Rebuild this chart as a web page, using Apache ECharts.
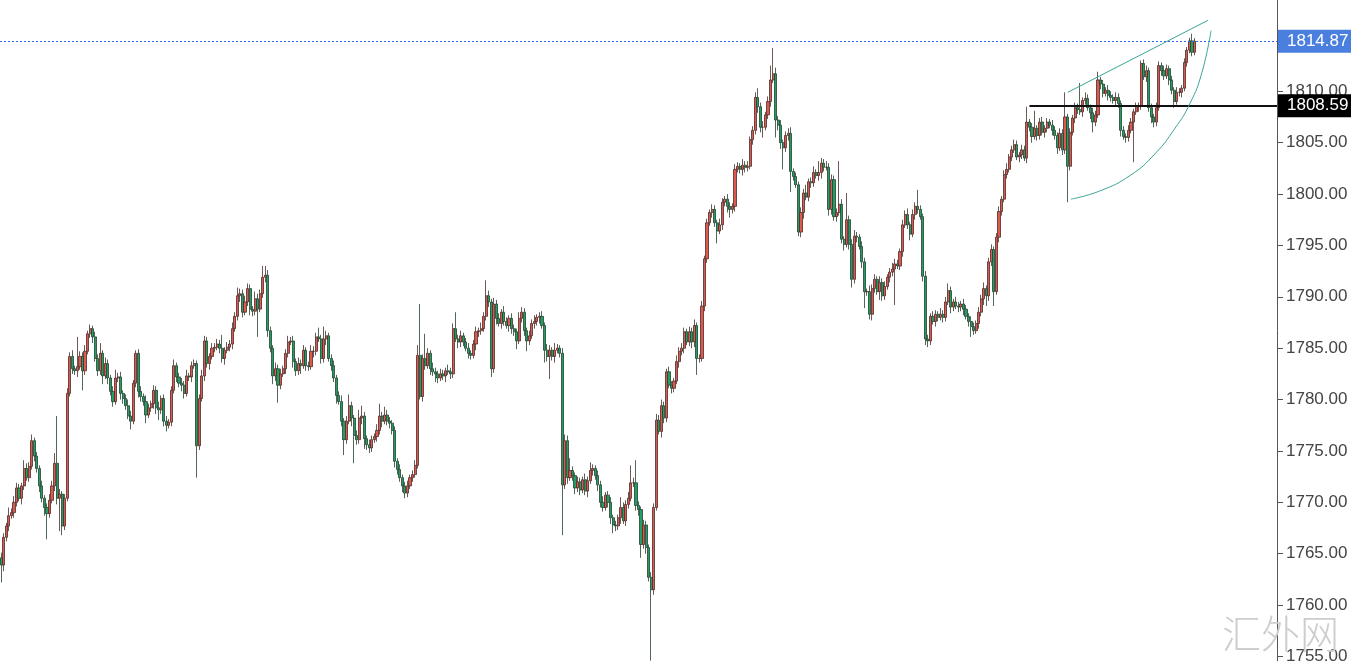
<!DOCTYPE html>
<html><head><meta charset="utf-8">
<script src="https://cdn.jsdelivr.net/npm/echarts@6/dist/echarts.min.js"></script>
<style>html,body{margin:0;padding:0;background:#fff;overflow:hidden}#c{width:1351px;height:665px}</style>
</head><body><div id="c"></div>
<script>
// ---- data ----
const firstOpen = 1764.6;
const closes = [
1763.9,1766.6,1767.7,1768.7,1769.0,1770.0,1771.4,1770.4,1771.6,1773.3,1772.4,1773.5,1776.0,1774.5,1773.3,1771.6,1770.4,1769.5,1768.9,1770.2,1771.6,1773.8,1770.4,1770.8,1767.7,1770.4,1780.6,
1784.2,1783.0,1782.8,1783.2,1784.2,1782.8,1784.7,1786.4,1786.9,1786.1,1784.0,1782.8,1784.5,1782.3,1783.5,1782.1,1780.8,1779.8,1782.1,1782.2,1780.6,1780.1,1779.4,1778.4,1777.9,1781.6,1784.5,1780.8,1780.3,1779.8,1778.5,1779.2,1779.6,1780.9,1779.2,1779.0,1780.1,1777.9,1777.5,1777.8,1780.9,1783.3,1782.2,1781.6,1781.4,1780.6,1782.3,1782.2,1783.3,1783.5,1775.5,1780.1,1782.3,1785.7,1783.5,1784.2,1785.0,1785.1,
1785.4,1785.0,1784.0,1784.8,1785.1,1785.4,1786.9,1788.1,1790.1,1790.3,1788.5,1789.5,1790.8,1788.8,1788.6,1789.8,1788.8,1790.3,1791.9,1792.1,1786.7,1785.0,1782.3,1783.0,1781.4,1782.5,1783.0,1784.5,1785.6,1785.7,1783.7,1782.8,1783.5,1783.3,1784.8,1783.3,1783.2,1784.7,1784.7,1786.1,1785.9,1784.0,1785.9,1786.2,1784.0,1783.3,1782.1,1780.4,1779.8,1777.9,1776.1,1777.9,1779.4,1778.2,1776.5,1776.1,1778.2,1778.4,1776.2,1775.6,1775.3,1776.1,1776.4,1777.0,1778.4,1777.9,1778.5,1777.9,1777.7,1777.0,1774.0,1773.2,1772.4,1771.6,1770.9,1771.6,1772.4,1772.7,1773.6,1784.3,
1780.3,1784.0,1783.3,1784.5,1783.0,1782.7,1782.5,1782.1,1782.5,1782.3,1782.8,1782.7,1782.5,1786.9,1785.9,1785.6,1786.2,1785.6,1785.0,1784.5,1784.3,1785.4,1786.6,1786.7,1786.9,1788.1,1790.1,1789.5,1783.0,1789.3,1787.9,1787.4,1788.5,1787.6,1787.2,1787.9,1786.9,1786.6,1785.7,1787.9,1788.5,1786.7,1785.7,1786.2,1787.4,1787.6,1788.0,1788.1,1787.2,1784.8,1784.2,1784.8,1784.2,1784.8,1785.0,1784.5,1771.7,
1776.0,1772.4,1773.1,1772.6,1771.4,1772.0,1771.2,1772.2,1771.1,1772.1,1773.1,1773.3,1772.6,1771.7,1770.0,1769.5,1770.7,1770.0,1768.5,1767.8,1767.7,1768.5,1769.5,1768.2,1769.8,1770.4,1771.9,1771.9,1769.7,1769.3,1765.9,1767.8,1765.6,1762.7,1761.5,1769.5,1778.0,
1776.9,1779.4,1778.2,1782.7,1781.4,1781.1,1781.8,1783.7,1784.7,1785.0,1786.6,1785.6,1786.6,1785.6,1787.2,1784.0,1784.0,1789.1,1793.7,1797.2,1798.2,1798.5,1797.2,1796.4,1797.0,1799.2,1799.5,1798.8,1798.5,1798.8,1802.4,1802.7,1802.4,1802.8,1802.6,1802.7,1805.3,1806.2,1809.4,1808.5,1806.5,1806.5,1807.7,1809.0,1811.1,1811.7,1807.2,1806.7,1805.0,1804.5,1805.7,1805.9,1802.2,1801.7,1800.9,1796.3,1798.2,1800.1,1799.7,1801.2,1801.1,1802.1,1801.8,1802.1,1803.0,1802.6,1802.6,1798.5,1801.4,1797.8,
1798.2,1799.0,1795.6,1795.1,1797.5,1795.1,1791.7,1795.9,1795.8,1794.9,1793.4,1790.5,1790.5,1788.3,1790.8,1791.7,1790.5,1791.4,1790.1,1791.0,1791.9,1792.4,1792.7,1793.2,1793.0,1794.4,1797.0,1798.0,1797.0,1796.1,1798.0,1798.8,1798.5,1797.8,1792.0,1785.9,1785.7,1788.1,1787.6,1788.3,1788.0,1788.3,1788.0,1789.5,1790.6,1789.0,1789.5,1789.1,1789.0,1789.3,1788.8,1788.1,1787.6,1787.1,1786.7,1787.4,1788.5,1789.8,1790.8,1790.1,1793.4,1794.6,1790.5,1795.8,1798.3,1799.5,1801.9,1802.4,1803.6,1804.3,1804.8,
1803.6,1803.8,1804.3,1803.5,1807.0,1806.5,1805.6,1806.4,1805.7,1807.0,1806.0,1806.4,1807.0,1806.7,1806.2,1805.7,1804.5,1805.9,1804.3,1807.5,1802.7,1806.0,1807.4,1808.4,1808.2,1808.0,1809.1,1809.3,1808.4,1807.9,1807.0,1807.7,1811.1,1810.7,1809.8,1810.1,1809.6,1809.4,1809.1,1809.4,1808.8,1806.2,1805.6,1805.5,1806.2,1807.0,1808.0,1808.5,1808.6,1812.7,1811.4,1812.0,1808.4,1807.5,1807.0,1808.4,1812.5,1812.0,1811.5,1812.2,1811.1,1810.1,1809.0,1809.9,1809.9,1810.3,1812.8,1814.0,1814.9,1813.8,1814.87
];
const wickUp = [
0.5,0.4,0.3,0.8,0.4,0.6,0.5,0.4,0.3,0.8,0.5,0.4,0.6,0.3,0.4,0.3,0.5,0.3,0.4,0.6,0.5,1.0,4.6,0.5,0.3,0.4,0.5,
0.4,0.6,0.3,2.9,0.5,0.4,0.6,0.3,0.4,0.3,0.5,0.4,1.0,0.3,0.6,0.4,0.3,0.5,0.8,0.4,0.5,0.3,0.4,0.6,0.5,0.3,0.3,0.4,0.5,0.3,0.6,0.4,0.3,0.5,0.4,0.6,0.3,0.4,0.5,0.3,0.4,0.6,0.3,0.4,0.5,0.4,0.6,0.3,0.4,0.4,0.3,0.4,0.6,0.5,0.4,0.3,0.5,0.4,
0.5,0.4,1.3,0.3,0.5,0.4,0.6,0.4,0.8,0.5,0.4,0.6,0.5,0.4,0.3,0.7,0.5,0.4,1.1,0.9,0.5,0.4,0.3,0.6,0.4,0.5,0.3,0.4,0.6,0.4,0.5,0.3,0.6,0.4,0.5,0.3,0.4,0.6,0.5,0.4,0.9,0.4,1.2,0.5,0.3,0.4,0.5,0.3,0.4,0.6,0.3,0.5,1.1,0.4,0.3,0.5,0.8,1.0,0.4,0.3,0.5,0.4,0.3,0.6,1.2,0.4,0.8,0.5,0.4,0.3,0.4,0.3,0.5,0.3,0.4,0.5,0.3,0.4,0.5,1.0,
5.0,0.4,2.4,0.5,0.3,0.6,0.4,0.3,0.5,0.4,0.3,0.6,0.4,0.5,1.6,0.4,0.5,0.3,0.4,0.5,0.3,0.4,0.5,0.3,0.6,0.4,1.5,0.5,0.3,0.6,0.4,0.5,0.3,0.6,0.4,0.3,0.5,0.4,0.3,0.6,0.5,0.4,0.3,0.5,0.4,0.6,0.3,0.4,0.5,0.3,0.6,0.5,0.3,0.7,0.4,0.3,0.5,
0.6,0.5,1.2,0.4,0.3,0.5,0.4,0.3,0.6,0.4,0.8,0.4,0.3,0.5,0.4,0.6,0.3,0.4,0.5,0.3,0.4,0.3,1.0,0.5,0.4,0.6,1.7,0.5,2.2,0.4,0.3,0.5,0.4,0.3,0.5,0.4,0.6,
0.5,0.6,0.4,0.3,0.5,0.4,0.3,0.6,0.4,0.5,0.4,0.3,0.5,0.4,0.6,0.3,0.4,0.5,0.3,0.4,0.3,0.5,0.4,0.3,0.6,0.4,0.3,0.5,0.4,0.3,0.5,0.4,0.3,0.6,0.4,0.5,0.3,0.4,0.5,0.9,0.4,0.6,0.3,0.5,1.4,2.5,0.6,0.4,0.5,0.3,0.4,0.5,0.6,0.3,0.4,0.3,0.5,0.4,0.8,0.3,0.4,0.6,0.3,1.1,0.5,0.4,0.6,0.4,0.5,0.4,
0.4,4.2,0.5,0.3,2.6,0.4,0.5,0.6,0.4,0.3,0.5,0.4,0.3,0.6,0.4,0.5,0.3,0.6,0.4,0.5,0.3,0.4,0.6,0.5,0.4,0.3,0.5,0.4,0.6,0.3,0.5,0.4,1.6,0.4,0.3,0.5,0.4,0.3,0.5,0.4,0.3,0.6,0.4,0.5,0.7,0.4,0.3,0.5,0.4,0.3,0.5,0.4,0.3,0.5,0.4,0.3,0.5,0.4,0.6,0.3,0.4,0.5,0.3,0.4,0.5,0.3,0.4,0.6,0.3,0.4,0.5,
0.4,0.3,0.5,0.4,1.5,0.3,0.4,1.7,0.3,0.4,0.5,0.3,0.4,0.3,0.5,0.4,0.3,0.5,0.4,2.4,0.3,0.4,0.3,0.5,0.4,2.6,0.3,0.6,0.4,0.3,0.5,0.4,0.8,0.3,0.4,0.3,0.5,0.4,0.3,0.5,0.4,0.3,0.4,0.3,0.5,0.4,0.3,0.4,0.3,0.3,0.4,0.5,0.3,0.4,0.3,0.5,0.4,0.3,0.5,0.4,0.3,0.4,0.3,0.5,0.4,0.3,0.4,0.3,0.3,0.7,0.3
];
const wickDn = [
1.7,0.6,0.4,0.5,0.3,0.5,0.4,0.3,0.6,0.4,0.3,0.4,0.3,0.5,0.4,0.6,0.4,0.8,2.5,0.4,0.3,0.5,0.6,3.2,0.9,0.4,0.3,
0.3,0.5,0.4,0.6,0.3,1.9,0.4,0.3,0.4,0.6,0.3,0.5,0.4,0.8,0.3,0.6,0.4,0.5,0.3,0.4,0.6,0.5,0.4,0.3,0.8,0.3,0.4,0.6,0.5,0.4,0.8,0.3,0.4,0.5,0.6,1.0,0.4,0.5,0.6,0.3,0.4,0.3,0.5,0.4,0.6,0.5,0.3,0.4,0.5,0.3,3.1,0.4,0.3,0.5,0.4,0.6,0.3,0.4,
0.3,0.5,0.4,0.6,0.3,0.4,0.5,0.3,0.4,0.6,0.5,0.3,0.4,0.6,0.5,0.4,2.7,0.3,0.4,0.5,0.6,0.4,0.8,0.5,1.7,0.4,0.3,0.5,0.4,0.3,0.6,0.5,0.4,0.8,0.3,0.5,0.4,0.3,0.6,0.4,0.3,0.5,0.4,0.6,0.3,0.5,0.4,0.8,0.3,0.5,1.5,0.4,0.3,0.8,2.7,0.5,0.4,0.6,1.0,0.5,0.5,0.4,0.3,0.5,0.4,0.6,0.3,0.4,0.5,0.4,0.6,0.5,0.4,0.6,0.5,0.4,0.3,0.4,0.3,0.3,
0.3,0.5,0.4,0.3,0.6,0.4,0.8,0.5,0.3,0.4,0.6,0.3,0.5,0.4,0.3,0.6,0.5,0.4,0.3,0.5,0.4,0.3,0.6,0.5,0.4,0.3,0.4,0.5,0.8,0.4,0.6,0.3,0.5,0.4,0.3,0.6,0.5,0.4,0.8,0.3,0.4,0.5,1.0,0.4,0.3,0.5,0.4,0.6,0.3,1.2,0.5,2.2,0.4,0.6,0.3,0.4,4.9,
0.4,0.6,0.3,0.5,0.6,0.4,0.5,0.3,0.4,0.6,0.3,0.5,0.4,0.6,0.5,0.4,0.3,0.5,0.6,0.8,0.5,0.4,0.6,0.3,0.5,0.4,0.3,0.4,0.5,0.6,1.3,0.4,0.6,0.4,6.9,0.5,0.3,
0.3,0.6,0.5,0.4,0.3,0.5,0.4,0.3,0.6,0.4,0.5,0.3,0.4,0.6,0.5,1.6,0.4,0.3,0.5,0.4,0.3,0.5,0.4,1.2,0.3,0.5,0.4,0.6,0.8,0.4,0.5,0.3,0.4,0.6,0.5,0.4,0.3,0.5,0.4,0.6,0.5,1.0,0.3,0.4,0.5,0.3,1.7,0.5,0.6,2.1,0.4,0.5,2.0,0.4,0.3,0.4,0.5,0.6,0.3,0.4,0.5,0.4,0.3,0.5,0.6,0.4,0.3,0.6,0.5,0.4,
0.5,0.3,0.4,0.6,0.3,0.5,0.8,0.4,0.5,0.3,0.6,1.6,0.4,0.5,0.6,0.4,0.3,0.8,0.5,0.4,0.3,0.5,0.4,3.5,0.3,0.4,0.5,0.3,0.4,0.6,0.3,0.5,0.4,0.3,0.5,0.6,0.6,0.4,0.3,0.5,0.4,0.3,0.5,0.4,0.3,0.6,0.4,0.3,0.5,0.4,0.6,0.3,0.5,1.0,0.4,0.3,0.5,0.4,0.6,1.0,0.5,0.4,1.4,0.3,0.5,0.4,0.3,0.4,0.3,0.4,0.3,
0.3,0.5,0.4,0.3,0.5,0.4,0.6,0.3,0.5,0.4,0.3,0.5,0.4,0.3,0.5,0.4,0.6,0.3,0.5,0.4,3.5,0.4,0.3,0.5,0.4,0.3,0.5,0.4,0.3,0.6,1.0,0.4,0.3,0.5,0.4,0.3,0.5,0.4,0.3,0.5,0.4,0.6,0.3,0.5,0.4,0.3,3.9,0.3,0.5,0.4,0.3,0.5,0.4,0.6,0.5,0.4,0.3,0.5,0.4,0.3,0.5,0.4,0.6,0.3,0.4,0.5,0.3,0.4,0.3,0.4,0.3
];
const yTicks = [1755,1760,1765,1770,1775,1780,1785,1790,1795,1800,1805,1810,1815];
const lastPrice = 1814.87;
const levelPrice = 1808.59;
const levelStartSlot = 405;
// drawn annotations: [slot position, price]
const trendUpper = [[420.1,1809.9],[475.3,1816.9]];
const trendArc = [[421.3,1799.5],[432.7,1800.3],[444.6,1801.8],[454.4,1803.9],[462.3,1806.4],[468.2,1808.8],[472.9,1811.8],[476.5,1815.9]];
const SLOTS = 503;

// ---- build ----
const slots = [];
for (let i = 0; i < SLOTS; i++) slots.push(String(i));
const ohlc = closes.map((c, i) => {
  const o = i === 0 ? firstOpen : closes[i - 1];
  const hi = Math.max(o, c) + (wickUp[i] || 0);
  const lo = Math.min(o, c) - (wickDn[i] || 0);
  return [o, c, +lo.toFixed(2), +hi.toFixed(2)];
});
const FONT = '"Liberation Sans", Arial, sans-serif';
const teal = '#3aa597';

const chart = echarts.init(document.getElementById('c'), null, {renderer: 'canvas'});
chart.setOption({
  animation: false,
  backgroundColor: '#ffffff',
  grid: {left: 0, right: 74, top: 0, bottom: 0, containLabel: false},
  xAxis: [
    {type: 'category', data: slots, boundaryGap: true, show: false},
    {type: 'value', min: -0.5, max: SLOTS - 0.5, show: false}
  ],
  yAxis: {
    type: 'value', position: 'right', min: 1754.6, max: 1818.88, scale: true,
    splitLine: {show: false},
    axisLine: {show: true, onZero: false, lineStyle: {color: '#555', width: 1}},
    axisTick: {show: true, length: 6, customValues: yTicks, lineStyle: {color: '#555'}},
    axisLabel: {customValues: yTicks, formatter: v => Number(v).toFixed(2), color: '#444', fontSize: 17, fontFamily: FONT, margin: 9, padding: [5, 0, 0, 0]}
  },
  series: [
    {
      type: 'candlestick', xAxisIndex: 0, data: ohlc, barWidth: 2.6,
      itemStyle: {color: '#e0574b', color0: '#1f9f63', borderColor: '#4a2c2a', borderColor0: '#24412f', borderWidth: 0.8}
    },
    {
      type: 'line', xAxisIndex: 1, data: trendUpper, showSymbol: false, clip: false, z: 5,
      lineStyle: {color: teal, width: 1},
      markLine: {
        silent: true, symbol: 'none', animation: false,
        data: [
          {yAxis: lastPrice, lineStyle: {color: '#2f6ee8', type: [2, 2], width: 1, opacity: 1},
           label: {show: true, position: 'end', distance: 1, formatter: lastPrice.toFixed(2), color: '#fff', backgroundColor: '#4a7fe0', padding: [4, 10, 2, 9], fontSize: 17, fontFamily: FONT}},
          [
            {coord: [levelStartSlot, levelPrice], lineStyle: {color: '#111', type: 'solid', width: 2},
             label: {show: true, position: 'end', distance: 1, formatter: levelPrice.toFixed(2), color: '#fff', backgroundColor: '#000', padding: [4, 10, 2, 9], fontSize: 17, fontFamily: FONT}},
            {coord: [SLOTS - 0.5, levelPrice]}
          ]
        ]
      }
    },
    {
      type: 'line', xAxisIndex: 1, data: trendArc, smooth: true, showSymbol: false, clip: false, z: 5,
      lineStyle: {color: teal, width: 1}
    }
  ],
  graphic: [
    {type: 'text', left: 1222, top: 614, z: 10,
     style: {text: '汇外网', fill: '#cdcdcd', font: '300 39px "Noto Sans CJK SC", sans-serif'}}
  ]
});
</script>
</body></html>
